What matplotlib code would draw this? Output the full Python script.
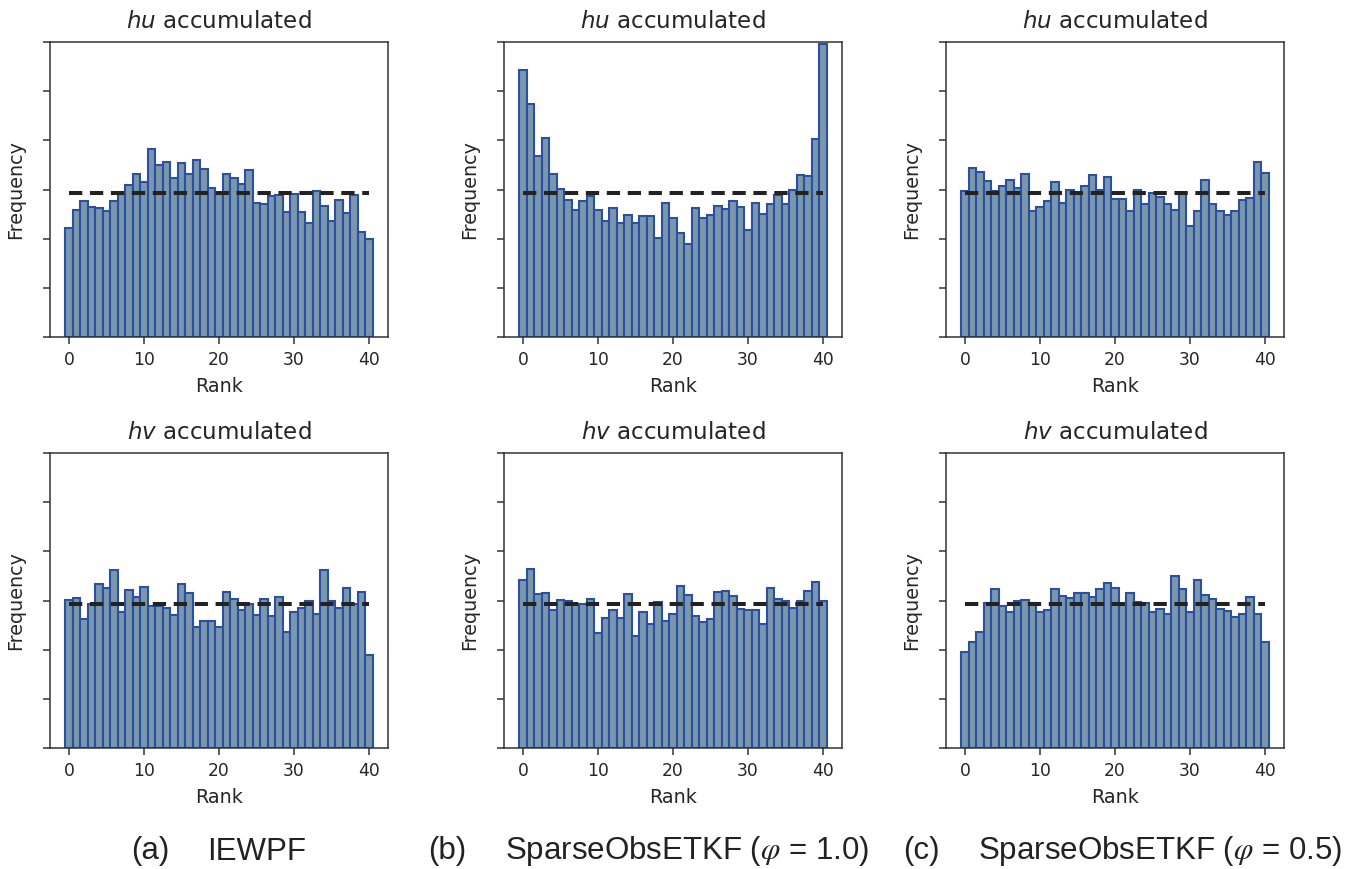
import numpy as np
import matplotlib
matplotlib.use("Agg")
import matplotlib.pyplot as plt

# rank histograms (arbitrary frequency units, y ticks are unlabelled)
ranks = np.arange(41)
expected_freq = 2.92

iewpf_hu = [2.21, 2.58, 2.77, 2.65, 2.63, 2.57, 2.77, 2.90, 3.09, 3.32,
            3.15, 3.83, 3.49, 3.55, 3.23, 3.53, 3.31, 3.61, 3.41, 3.03,
            2.90, 3.32, 3.23, 3.12, 3.39, 2.73, 2.71, 2.86, 2.89, 2.55,
            2.91, 2.55, 2.32, 2.97, 2.66, 2.36, 2.78, 2.53, 2.89, 2.14,
            1.99]
sparse10_hu = [5.43, 4.73, 3.68, 4.05, 3.31, 3.01, 2.78, 2.58, 2.76, 2.86,
               2.58, 2.36, 2.62, 2.31, 2.49, 2.32, 2.47, 2.47, 2.01, 2.72,
               2.42, 2.11, 1.89, 2.62, 2.43, 2.49, 2.67, 2.60, 2.76, 2.64,
               2.17, 2.72, 2.51, 2.71, 2.89, 2.71, 2.99, 3.29, 3.28, 4.03,
               5.96]
sparse05_hu = [2.97, 3.44, 3.35, 3.17, 2.97, 3.07, 3.19, 3.03, 3.31, 2.57,
               2.65, 2.77, 3.15, 2.73, 2.99, 2.92, 3.07, 3.29, 2.99, 3.26,
               2.80, 2.80, 2.57, 2.99, 2.71, 2.93, 2.85, 2.71, 2.58, 2.90,
               2.26, 2.57, 3.19, 2.71, 2.57, 2.49, 2.57, 2.78, 2.82, 3.55,
               3.34]
iewpf_hv = [3.02, 3.06, 2.63, 2.92, 3.34, 3.26, 3.62, 2.76, 3.21, 3.08,
            3.28, 2.88, 2.88, 2.85, 2.70, 3.34, 3.16, 2.47, 2.58, 2.58,
            2.47, 3.17, 3.04, 2.81, 2.92, 2.70, 3.04, 2.68, 3.08, 2.35,
            2.76, 2.85, 2.98, 2.72, 3.62, 2.98, 2.85, 3.26, 2.92, 3.17,
            1.89]
sparse10_hv = [3.42, 3.65, 3.13, 3.16, 2.81, 3.02, 3.00, 2.93, 2.93, 3.04,
               2.33, 2.64, 2.81, 2.64, 3.14, 2.28, 2.76, 2.52, 2.96, 2.58,
               2.72, 3.30, 3.11, 2.68, 2.56, 2.63, 3.17, 3.19, 3.10, 2.83,
               2.81, 2.81, 2.52, 3.26, 3.04, 2.99, 2.85, 3.00, 3.19, 3.37,
               2.99]
sparse05_hv = [1.95, 2.16, 2.35, 2.95, 3.23, 2.88, 2.77, 2.98, 3.02, 2.94,
               2.77, 2.81, 3.23, 3.10, 3.06, 3.16, 3.16, 3.08, 3.23, 3.36,
               3.25, 2.92, 3.15, 2.96, 2.94, 2.77, 2.83, 2.73, 3.49, 3.23,
               2.77, 3.41, 3.11, 3.04, 2.83, 2.79, 2.66, 2.73, 3.07, 2.72,
               2.15]

top_row = [iewpf_hu, sparse10_hu, sparse05_hu]
bottom_row = [iewpf_hv, sparse10_hv, sparse05_hv]
row_titles = [r"$hu$ accumulated", r"$hv$ accumulated"]
panel_tags = ["(a)", "(b)", "(c)"]
method_names = ["IEWPF", r"SparseObsETKF ($\varphi$ = 1.0)",
                r"SparseObsETKF ($\varphi$ = 0.5)"]

W, H = 1353, 869
fig = plt.figure(figsize=(W / 100, H / 100), dpi=100)

col_left = [50, 504, 946]
row_top = [42, 453]
ax_w, ax_h = 338, 295

fill_col = "#7b97ab"
edge_col = "#2a50a6"
spine_col = "#333333"

for r, row_data in enumerate([top_row, bottom_row]):
    for c, vals in enumerate(row_data):
        rect = [col_left[c] / W, (H - row_top[r] - ax_h) / H, ax_w / W, ax_h / H]
        ax = fig.add_axes(rect)
        ax.bar(ranks, vals, width=1.0, color=fill_col, edgecolor=edge_col,
               linewidth=1.5)
        ax.hlines(expected_freq, ranks[0], ranks[-1], colors="#222222",
                  linestyles=(0, (3.3, 1.9)), linewidth=2.9, zorder=3)
        ax.set_ylim(0, 6)
        ax.set_yticks(np.arange(0, 7))
        ax.set_yticklabels([])
        ax.set_xticks([0, 10, 20, 30, 40])
        ax.tick_params(axis="both", direction="out", length=5, width=1.1,
                       color=spine_col, labelsize=12.3, labelcolor="#262626",
                       pad=5)
        for s in ax.spines.values():
            s.set_color(spine_col)
            s.set_linewidth(1.1)
        ax.set_title(row_titles[r], fontsize=16.6, pad=10, color="#262626")
        ax.set_xlabel("Rank", fontsize=13.8, color="#262626", labelpad=6)
        ax.set_ylabel("Frequency", fontsize=13.8, color="#262626", labelpad=8)

# captions below each column
tag_x = [131, 428, 903]
name_x = [207, 505, 978]
for c in range(3):
    fig.text(tag_x[c] / W, 9.5 / H, panel_tags[c], fontsize=22.5,
             family="Liberation Sans", color="#222222", va="baseline")
    fig.text(name_x[c] / W, 9.5 / H, method_names[c], fontsize=22.5,
             family="Liberation Sans", color="#222222", va="baseline",
             math_fontfamily="stix")

fig.savefig("out.png", dpi=100)
